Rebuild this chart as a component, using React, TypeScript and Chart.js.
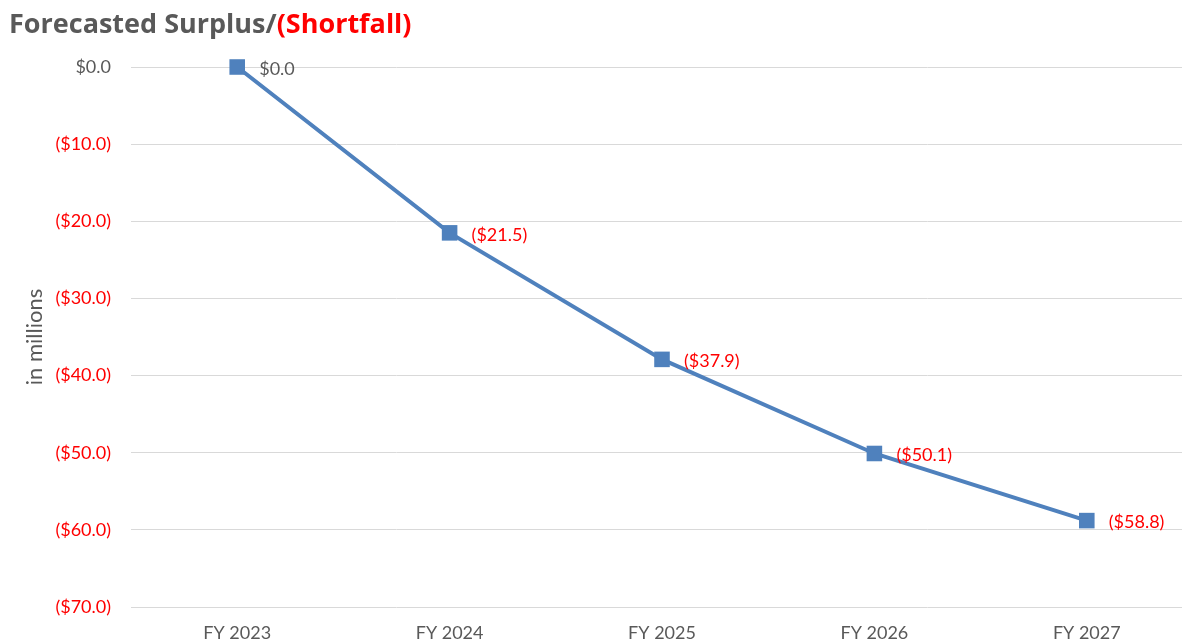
import React, { useEffect, useRef } from "react";
import { Chart, registerables } from "chart.js";

Chart.register(...registerables);

const categories = ["FY 2023", "FY 2024", "FY 2025", "FY 2026", "FY 2027"];
const surplus = [0, -21.5, -37.9, -50.1, -58.8];
const yMin = -70;
const yMax = 0;
const yStep = 10;
const titleMain = "Forecasted Surplus/";
const titleRed = "(Shortfall)";
const yAxisTitle = "in millions";

const GRAY = "#595959";
const RED = "#FF0000";
const BLUE = "#4F81BD";
const GRID = "#D9D9D9";
const FONT = "Lato, 'Open Sans', sans-serif";

const fmt = (v: number) =>
  v < 0 ? `($${Math.abs(v).toFixed(1)})` : `$${v.toFixed(1)}`;

const dataLabelPlugin = {
  id: "dataLabels",
  afterDatasetsDraw(chart: any) {
    const ctx = chart.ctx;
    const meta = chart.getDatasetMeta(0);
    ctx.save();
    ctx.font = `18px ${FONT}`;
    ctx.textAlign = "left";
    ctx.textBaseline = "middle";
    meta.data.forEach((pt: any, i: number) => {
      const v = surplus[i];
      ctx.fillStyle = v < 0 ? RED : GRAY;
      ctx.fillText(fmt(v), pt.x + 22, pt.y + 2);
    });
    ctx.restore();
  },
};

export default function App() {
  const ref = useRef<HTMLCanvasElement>(null);
  useEffect(() => {
    if (!ref.current) return;
    const chart = new Chart(ref.current, {
      type: "line",
      data: {
        labels: categories,
        datasets: [
          {
            data: surplus,
            borderColor: BLUE,
            backgroundColor: BLUE,
            borderWidth: 4,
            pointStyle: "rect",
            pointRadius: 11,
            pointBackgroundColor: BLUE,
            pointBorderColor: BLUE,
            pointBorderWidth: 0,
            tension: 0,
            clip: false,
          } as any,
        ],
      },
      options: {
        animation: false,
        responsive: false,
        layout: { padding: { top: 67, right: 0, left: 0, bottom: 0 } },
        plugins: {
          legend: { display: false },
          title: { display: false },
          tooltip: { enabled: false },
        },
        scales: {
          x: {
            type: "category",
            offset: true,
            grid: { display: false, drawTicks: true, tickLength: 15 },
            border: { display: false },
            ticks: {
              color: GRAY,
              font: { family: FONT, size: 18 },
              padding: 0,
              maxRotation: 0,
            },
            afterFit: (s: any) => {
              s.height = 36;
              s.paddingLeft = 0;
              s.paddingRight = 0;
            },
          },
          y: {
            min: yMin,
            max: yMax,
            grid: { color: GRID, lineWidth: 1, drawTicks: false },
            border: { display: false },
            ticks: {
              stepSize: yStep,
              padding: 20,
              font: { family: FONT, size: 18 },
              color: (c: any) => (c.tick && c.tick.value < 0 ? RED : GRAY),
              callback: (v: any) => fmt(Number(v)),
            },
            title: {
              display: true,
              text: yAxisTitle,
              color: GRAY,
              font: { family: FONT, size: 22 },
              padding: { top: 22, bottom: 0 },
            },
            afterFit: (s: any) => {
              s.width = 131;
              s.paddingTop = 0;
              s.paddingBottom = 0;
            },
          },
        },
      },
      plugins: [dataLabelPlugin],
    });
    return () => chart.destroy();
  }, []);

  return (
    <div
      style={{
        position: "fixed",
        left: 0,
        top: 0,
        width: 1182,
        height: 643,
        overflow: "hidden",
        background: "#fff",
      }}
    >
      <canvas
        ref={ref}
        width={1204}
        height={643}
        style={{ position: "absolute", left: 0, top: 0, width: 1204, height: 643 }}
      />
      <div
        style={{
          position: "absolute",
          left: 9,
          top: 5,
          fontFamily: "'Open Sans', Lato, sans-serif",
          fontWeight: 700,
          fontSize: 27,
          lineHeight: "36px",
          color: GRAY,
          whiteSpace: "nowrap",
        }}
      >
        {titleMain}
        <span style={{ color: RED }}>{titleRed}</span>
      </div>
    </div>
  );
}
